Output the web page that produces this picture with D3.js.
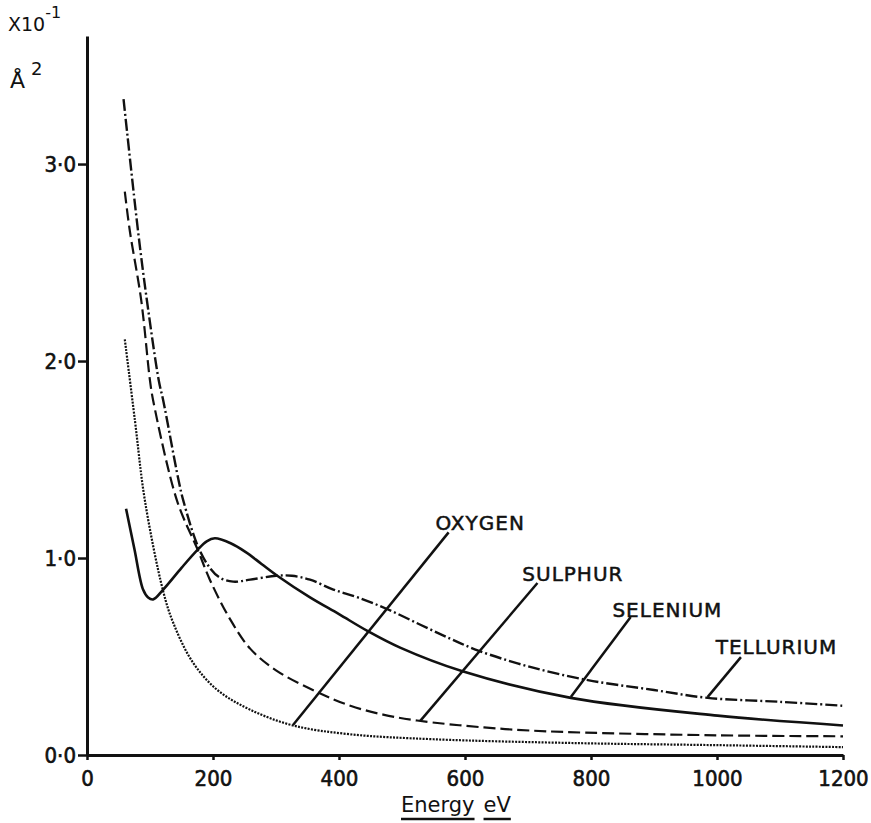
<!DOCTYPE html>
<html>
<head>
<meta charset="utf-8">
<script src="https://cdn.jsdelivr.net/npm/d3@7"></script>
<style>
  body { margin: 0; background: #fff; }
  svg { display: block; }
  text { font-family: "DejaVu Sans", sans-serif; fill: #111; }
  .tick text { font-family: "DejaVu Sans Condensed", "DejaVu Sans", sans-serif; font-size: 22px; }
</style>
</head>
<body>
<script>
var w = 871,
    h = 823;

// energy (eV) / cross section (x10^-1 A^2)
var energyTicks = [0, 200, 400, 600, 800, 1000, 1200];
var crossTicks = [0, 1, 2, 3];

var oxygen = [[60, 2.11], [76, 1.70], [92, 1.29], [121, 0.83], [137, 0.67], [168, 0.47],
  [207, 0.33], [259, 0.23], [327, 0.15], [418, 0.105], [550, 0.08], [784, 0.06],
  [1000, 0.05], [1200, 0.04]];

var sulphur = [[60, 2.86], [68, 2.66], [86, 2.31], [100, 1.90], [105, 1.80], [143, 1.29],
  [176, 1.04], [195, 0.89], [227, 0.69], [259, 0.54], [300, 0.43], [365, 0.32],
  [418, 0.25], [470, 0.205], [524, 0.175], [630, 0.14], [731, 0.12], [1000, 0.10],
  [1200, 0.095]];

var selenium = [[62, 1.25], [75, 1.05], [89, 0.84], [97, 0.80], [105, 0.79], [121, 0.84],
  [150, 0.95], [175, 1.04], [190, 1.085], [203, 1.10], [228, 1.075], [252, 1.03],
  [277, 0.97], [302, 0.91], [354, 0.80], [400, 0.715], [445, 0.63], [497, 0.545],
  [596, 0.425], [768, 0.29], [1001, 0.20], [1200, 0.15]];

var tellurium = [[58, 3.33], [81, 2.66], [95, 2.31], [114, 1.90], [121, 1.80], [145, 1.40],
  [153, 1.29], [176, 1.06], [195, 0.95], [211, 0.90], [232, 0.88], [259, 0.89],
  [300, 0.91], [325, 0.91], [354, 0.89], [391, 0.84], [430, 0.80], [477, 0.74],
  [530, 0.66], [577, 0.59], [621, 0.53], [700, 0.45], [795, 0.38], [900, 0.33],
  [985, 0.29], [1100, 0.27], [1200, 0.25]];

var labelNames = ["OXYGEN", "SULPHUR", "SELENIUM", "TELLURIUM"];
var leaderFrom = [[327, 0.152], [529, 0.173], [768, 0.294], [985, 0.294]];
var leaderTo = [[574, 1.13], [715, 0.873], [863, 0.70], [1038, 0.497]];
var labelAt = [[553, 1.14], [691, 0.883], [834, 0.70], [998, 0.513]];

var series = [
  {points: oxygen, dash: "2,1.3", width: 2.2},
  {points: sulphur, dash: "12,5", width: 2.2},
  {points: selenium, dash: null, width: 2.6},
  {points: tellurium, dash: "12,3,2,3", width: 2.4}
];

var x = d3.scaleLinear().domain([0, 1200]).range([87, 843]);
var y = d3.scaleLinear().domain([0, 3.65]).range([755, 36]);

var svg = d3.select("body").append("svg")
    .attr("width", w)
    .attr("height", h);

svg.append("rect").attr("width", w).attr("height", h).style("fill", "#fff");

var line = d3.line()
    .x(function(d) { return x(d[0]); })
    .y(function(d) { return y(d[1]); })
    .curve(d3.curveCatmullRom.alpha(0.5));

svg.selectAll("path.curve").data(series).enter().append("path")
    .attr("class", "curve")
    .attr("d", function(d) { return line(d.points); })
    .attr("fill", "none")
    .attr("stroke", "#111")
    .attr("stroke-width", function(d) { return d.width; })
    .attr("stroke-dasharray", function(d) { return d.dash; });

// axes
var xAxis = svg.append("g")
    .attr("transform", "translate(0," + y(0) + ")")
    .call(d3.axisBottom(x).tickValues(energyTicks).tickSize(5).tickSizeOuter(0).tickPadding(10)
      .tickFormat(d3.format("d")));

var yAxis = svg.append("g")
    .attr("transform", "translate(" + x(0) + ",0)")
    .call(d3.axisLeft(y).tickValues(crossTicks).tickSize(9).tickSizeOuter(0).tickPadding(2)
      .tickFormat(function(d) { return d.toFixed(1).replace(".", "\u00b7"); }));

[xAxis, yAxis].forEach(function(a) {
  a.select(".domain").attr("stroke", "#111").attr("stroke-width", 3);
  a.selectAll(".tick line").attr("stroke", "#111").attr("stroke-width", 2.5);
  a.selectAll(".tick text").attr("fill", "#111")
      .style("stroke", "#111").style("stroke-width", 0.6);
});

// leader lines + element names
labelNames.forEach(function(name, i) {
  svg.append("line")
      .attr("x1", x(leaderFrom[i][0])).attr("y1", y(leaderFrom[i][1]))
      .attr("x2", x(leaderTo[i][0])).attr("y2", y(leaderTo[i][1]))
      .attr("stroke", "#111")
      .attr("stroke-width", 2.5);

  svg.append("text")
      .attr("x", x(labelAt[i][0]))
      .attr("y", y(labelAt[i][1]))
      .attr("font-size", 20)
      .style("letter-spacing", "1px")
      .style("stroke", "#111").style("stroke-width", 0.5)
      .text(name);
});

// y units, top left
var units = svg.append("text").attr("x", 8).attr("y", 31).attr("font-size", 19);
units.append("tspan").text("X10");
units.append("tspan").attr("font-size", 16).attr("dy", -13).text("-1");

var area = svg.append("text").attr("x", 10).attr("y", 88).attr("font-size", 22);
area.append("tspan").text("\u00c5");
area.append("tspan").attr("font-size", 18).attr("dx", 6).attr("dy", -13).text("2");

// x title, words underlined separately
var titleWords = ["Energy", "eV"];
var tx = 401;
titleWords.forEach(function(word) {
  var t = svg.append("text")
      .attr("x", tx)
      .attr("y", 812)
      .attr("font-size", 21)
      .text(word);
  var len = t.node().getComputedTextLength();
  svg.append("line")
      .attr("x1", tx).attr("x2", tx + len)
      .attr("y1", 819).attr("y2", 819)
      .attr("stroke", "#111")
      .attr("stroke-width", 2.5);
  tx += len + 9;
});
</script>
</body>
</html>
